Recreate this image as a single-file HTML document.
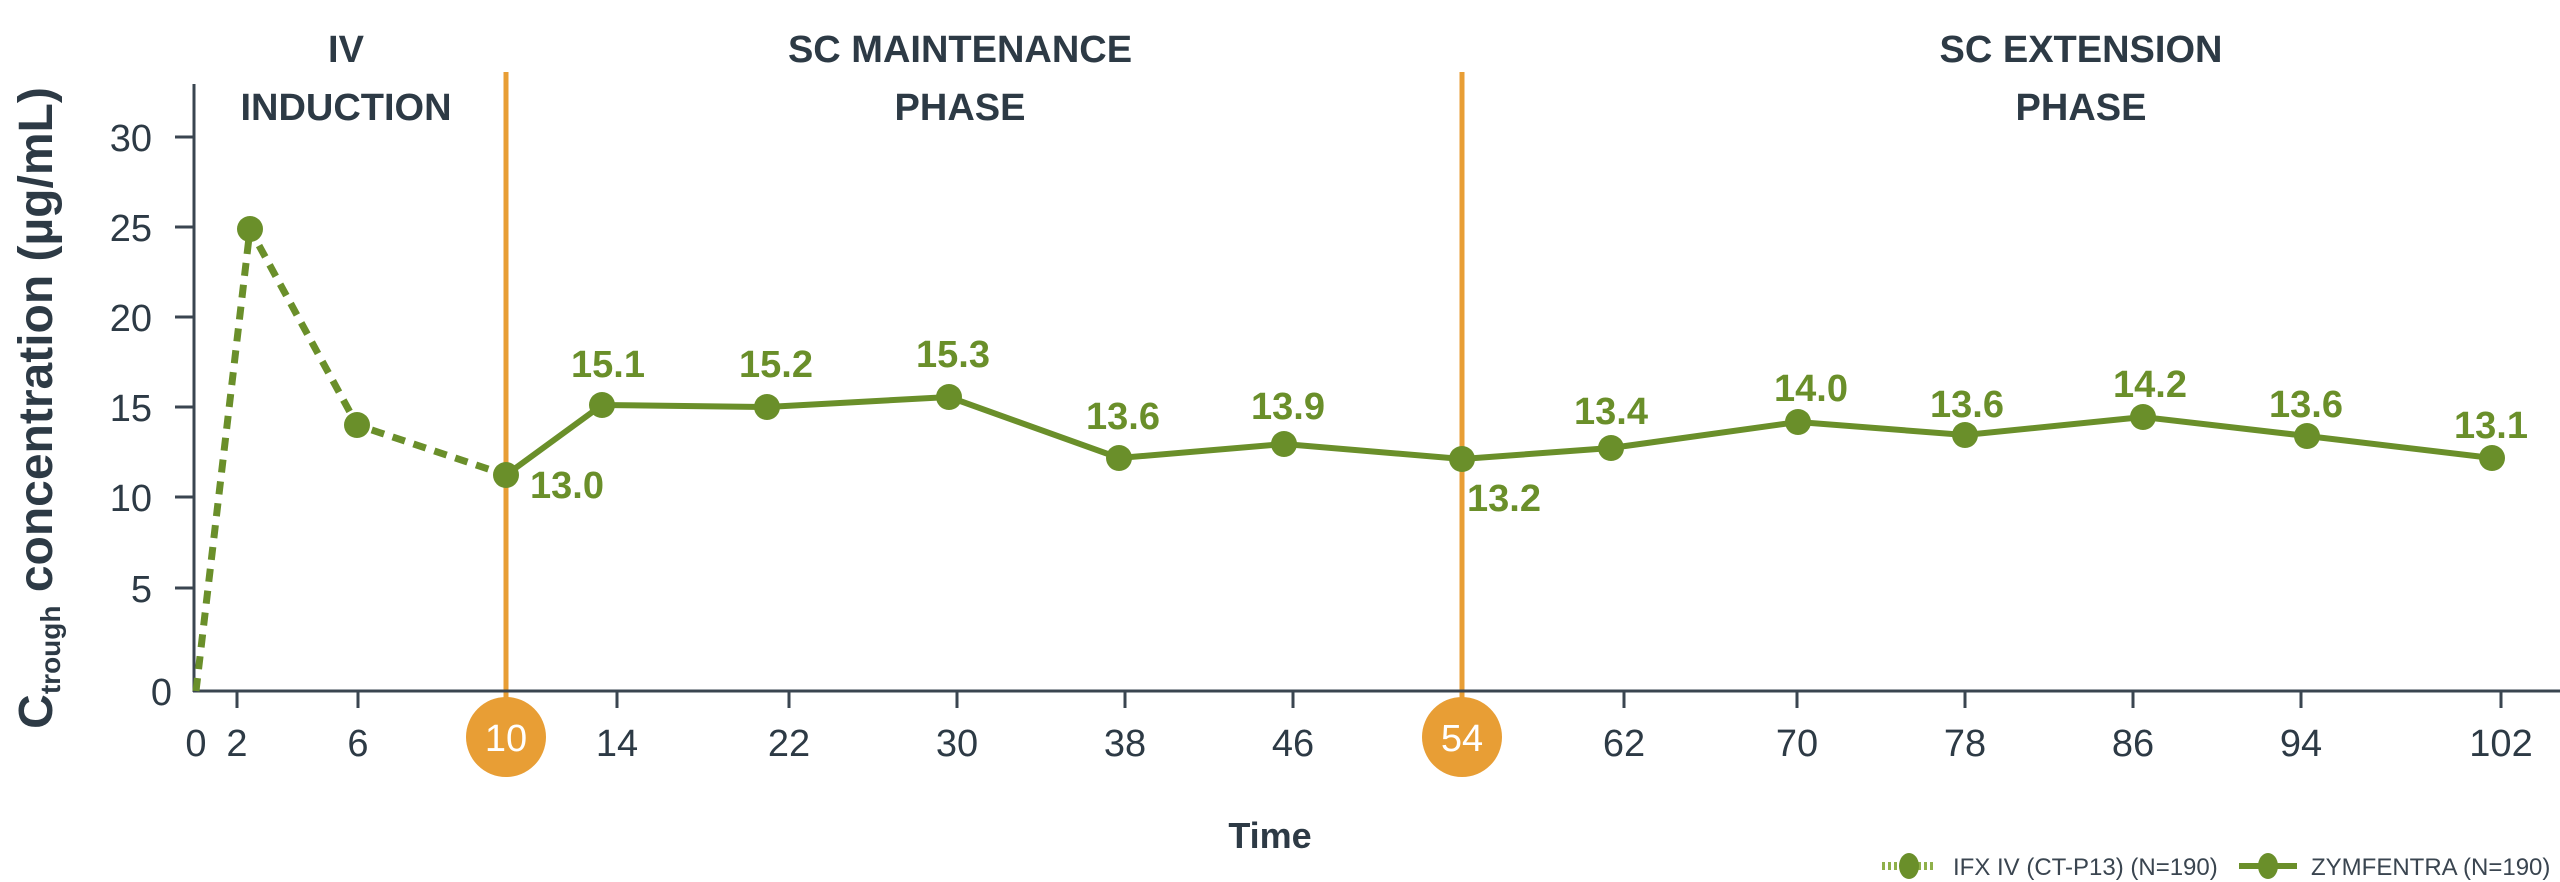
<!DOCTYPE html>
<html><head><meta charset="utf-8"><style>
html,body{margin:0;padding:0;background:#fff;}
svg{display:block;}
text{font-family:"Liberation Sans",sans-serif;}
</style></head><body>
<svg width="2560" height="882" viewBox="0 0 2560 882" xmlns="http://www.w3.org/2000/svg">
<g font-weight="bold" font-size="38" fill="#2d3a45" text-anchor="middle">
<text x="346" y="62">IV</text>
<text x="346" y="120">INDUCTION</text>
<text x="960" y="62">SC MAINTENANCE</text>
<text x="960" y="120">PHASE</text>
<text x="2081" y="62">SC EXTENSION</text>
<text x="2081" y="120">PHASE</text>
</g>
<line x1="506" y1="72" x2="506" y2="700" stroke="#E89E35" stroke-width="5"/>
<line x1="1462" y1="72" x2="1462" y2="700" stroke="#E89E35" stroke-width="5"/>
<line x1="194" y1="84" x2="194" y2="692" stroke="#3a4550" stroke-width="3"/>
<line x1="193" y1="691" x2="2560" y2="691" stroke="#3a4550" stroke-width="3"/>
<g stroke="#3a4550" stroke-width="3">
<line x1="175" y1="137" x2="194" y2="137"/>
<line x1="175" y1="227" x2="194" y2="227"/>
<line x1="175" y1="317" x2="194" y2="317"/>
<line x1="175" y1="407" x2="194" y2="407"/>
<line x1="175" y1="497" x2="194" y2="497"/>
<line x1="175" y1="588" x2="194" y2="588"/>
<line x1="237" y1="691" x2="237" y2="708"/>
<line x1="358" y1="691" x2="358" y2="708"/>
<line x1="617" y1="691" x2="617" y2="708"/>
<line x1="789" y1="691" x2="789" y2="708"/>
<line x1="957" y1="691" x2="957" y2="708"/>
<line x1="1125" y1="691" x2="1125" y2="708"/>
<line x1="1293" y1="691" x2="1293" y2="708"/>
<line x1="1624" y1="691" x2="1624" y2="708"/>
<line x1="1797" y1="691" x2="1797" y2="708"/>
<line x1="1965" y1="691" x2="1965" y2="708"/>
<line x1="2133" y1="691" x2="2133" y2="708"/>
<line x1="2301" y1="691" x2="2301" y2="708"/>
<line x1="2501" y1="691" x2="2501" y2="708"/>
</g>
<g font-size="38" fill="#2d3a45" text-anchor="end">
<text x="152" y="151">30</text>
<text x="152" y="241">25</text>
<text x="152" y="331">20</text>
<text x="152" y="421">15</text>
<text x="152" y="511">10</text>
<text x="152" y="602">5</text>
<text x="172" y="705">0</text>
</g>
<g font-size="38" fill="#2d3a45" text-anchor="middle">
<text x="196" y="756">0</text>
<text x="237" y="756">2</text>
<text x="358" y="756">6</text>
<text x="617" y="756">14</text>
<text x="789" y="756">22</text>
<text x="957" y="756">30</text>
<text x="1125" y="756">38</text>
<text x="1293" y="756">46</text>
<text x="1624" y="756">62</text>
<text x="1797" y="756">70</text>
<text x="1965" y="756">78</text>
<text x="2133" y="756">86</text>
<text x="2301" y="756">94</text>
<text x="2501" y="756">102</text>
</g>
<circle cx="506" cy="737" r="40" fill="#E89E35"/>
<circle cx="1462" cy="737" r="40" fill="#E89E35"/>
<text x="506" y="751" font-size="38" fill="#fff" text-anchor="middle">10</text>
<text x="1462" y="751" font-size="38" fill="#fff" text-anchor="middle">54</text>
<polyline points="196,691 250,229 357,425 506,475" fill="none" stroke="#6a8f2a" stroke-width="7" stroke-dasharray="13,9"/>
<polyline points="506,475 602,405 767,407 949,397 1119,458 1284,444 1462,459 1611,448 1798,422 1965,435 2143,417 2307,436 2492,458" fill="none" stroke="#6a8f2a" stroke-width="6"/>
<g fill="#6a8f2a">
<circle cx="250" cy="229" r="13"/><circle cx="357" cy="425" r="13"/><circle cx="506" cy="475" r="13"/>
<circle cx="602" cy="405" r="13"/><circle cx="767" cy="407" r="13"/><circle cx="949" cy="397" r="13"/>
<circle cx="1119" cy="458" r="13"/><circle cx="1284" cy="444" r="13"/><circle cx="1462" cy="459" r="13"/>
<circle cx="1611" cy="448" r="13"/><circle cx="1798" cy="422" r="13"/><circle cx="1965" cy="435" r="13"/>
<circle cx="2143" cy="417" r="13"/><circle cx="2307" cy="436" r="13"/><circle cx="2492" cy="458" r="13"/>
</g>
<g font-size="38" font-weight="bold" fill="#6a8f2a" text-anchor="middle">
<text x="608" y="377">15.1</text>
<text x="776" y="377">15.2</text>
<text x="953" y="367">15.3</text>
<text x="1123" y="429">13.6</text>
<text x="1288" y="419">13.9</text>
<text x="1611" y="424">13.4</text>
<text x="1811" y="401">14.0</text>
<text x="1967" y="417">13.6</text>
<text x="2150" y="397">14.2</text>
<text x="2306" y="417">13.6</text>
<text x="2491" y="438">13.1</text>
<text x="567" y="498">13.0</text>
<text x="1504" y="511">13.2</text>
</g>
<text transform="translate(52,408) rotate(-90)" font-size="48" font-weight="bold" fill="#2d3a45" text-anchor="middle">C<tspan font-size="28" dy="8">trough</tspan><tspan dy="-8"> concentration (µg/mL)</tspan></text>
<text x="1270" y="848" font-size="36" font-weight="bold" fill="#2d3a45" text-anchor="middle">Time</text>
<line x1="1882" y1="866" x2="1936" y2="866" stroke="#8fb04a" stroke-width="8" stroke-dasharray="3,3"/>
<ellipse cx="1909" cy="866" rx="10" ry="13" fill="#6a8f2a"/>
<text x="1953" y="875" font-size="24" fill="#3a4550">IFX IV (CT-P13) (N=190)</text>
<line x1="2239" y1="866" x2="2297" y2="866" stroke="#6a8f2a" stroke-width="6"/>
<ellipse cx="2268" cy="866" rx="10" ry="13" fill="#6a8f2a"/>
<text x="2311" y="875" font-size="24" fill="#3a4550">ZYMFENTRA (N=190)</text>
</svg>
</body></html>
